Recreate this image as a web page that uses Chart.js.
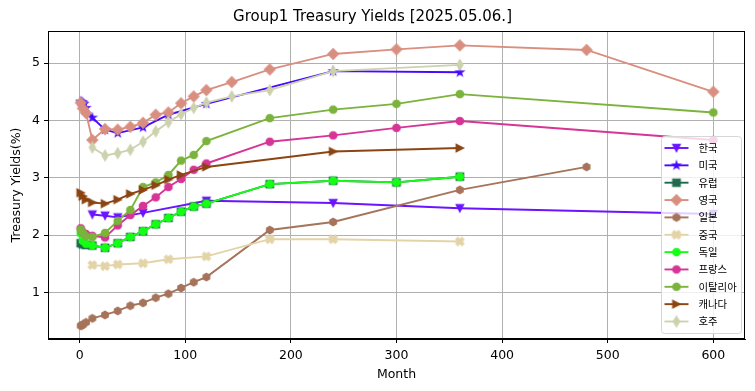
<!DOCTYPE html>
<html>
<head>
<meta charset="utf-8">
<script src="https://cdn.jsdelivr.net/npm/chart.js@4.4.1/dist/chart.umd.min.js"></script>
<style>
  body { margin: 0; background: #fff; }
</style>
</head>
<body>
<canvas id="chart" width="755" height="391"></canvas>
<script>
// maturities in months, yields in %
const koreaMonths = [12, 24, 36, 60, 120, 240, 360, 600];
const koreaYields = [2.36, 2.34, 2.31, 2.39, 2.60, 2.56, 2.47, 2.37];

const usMonths = [1, 2, 3, 4, 6, 12, 24, 36, 60, 84, 120, 240, 360];
const usYields = [4.33, 4.32, 4.31, 4.29, 4.22, 4.05, 3.84, 3.78, 3.88, 4.10, 4.29, 4.86, 4.84];

const europeMonths = [1, 3, 6, 12, 24, 36, 48, 60, 72, 84, 96, 108, 120, 180, 240, 300, 360];
const europeYields = [1.86, 1.84, 1.83, 1.82, 1.78, 1.86, 1.97, 2.07, 2.19, 2.30, 2.41, 2.50, 2.55, 2.89, 2.95, 2.92, 3.02];

const ukMonths = [1, 3, 6, 12, 24, 36, 48, 60, 72, 84, 96, 108, 120, 144, 180, 240, 300, 360, 480, 600];
const ukYields = [4.31, 4.21, 4.13, 3.66, 3.85, 3.84, 3.89, 3.96, 4.10, 4.14, 4.30, 4.42, 4.53, 4.67, 4.89, 5.16, 5.24, 5.31, 5.23, 4.50];

const japanMonths = [1, 2, 3, 6, 12, 24, 36, 48, 60, 72, 84, 96, 108, 120, 180, 240, 360, 480];
const japanYields = [0.42, 0.43, 0.44, 0.48, 0.55, 0.61, 0.68, 0.77, 0.82, 0.91, 0.98, 1.08, 1.18, 1.27, 2.09, 2.23, 2.79, 3.19];

const chinaMonths = [12, 24, 36, 60, 84, 120, 180, 240, 360];
const chinaYields = [1.48, 1.46, 1.49, 1.51, 1.58, 1.63, 1.93, 1.93, 1.89];

const germanyMonths = [1, 3, 6, 12, 24, 36, 48, 60, 72, 84, 96, 108, 120, 180, 240, 300, 360];
const germanyYields = [2.03, 1.90, 1.85, 1.82, 1.78, 1.86, 1.97, 2.07, 2.19, 2.30, 2.41, 2.50, 2.55, 2.89, 2.95, 2.92, 3.02];

const franceMonths = [1, 3, 6, 12, 24, 36, 48, 60, 72, 84, 96, 108, 120, 180, 240, 300, 360, 600];
const franceYields = [2.12, 2.05, 2.02, 1.99, 1.96, 2.17, 2.35, 2.51, 2.66, 2.84, 2.98, 3.14, 3.25, 3.63, 3.74, 3.87, 3.99, 3.66];

const italyMonths = [1, 3, 6, 12, 24, 36, 48, 60, 72, 84, 96, 108, 120, 180, 240, 300, 360, 600];
const italyYields = [2.10, 2.04, 1.98, 1.97, 2.04, 2.25, 2.44, 2.84, 2.92, 3.05, 3.30, 3.40, 3.64, 4.04, 4.19, 4.29, 4.46, 4.14];

const canadaMonths = [1, 3, 6, 12, 24, 36, 48, 60, 72, 84, 96, 120, 240, 360];
const canadaYields = [2.74, 2.68, 2.62, 2.57, 2.55, 2.62, 2.72, 2.79, 2.87, 2.97, 3.05, 3.19, 3.46, 3.52];

const australiaMonths = [12, 24, 36, 48, 60, 72, 84, 96, 108, 120, 144, 180, 240, 360];
const australiaYields = [3.53, 3.39, 3.43, 3.49, 3.63, 3.81, 3.97, 4.11, 4.22, 4.31, 4.42, 4.53, 4.86, 4.97];

const xTicks = [0, 100, 200, 300, 400, 500, 600];
const yTicks = [1, 2, 3, 4, 5];

const series = [
  { label: '한국', months: koreaMonths, yields: koreaYields, color: '#6a14ff', marker: 'v' },
  { label: '미국', months: usMonths, yields: usYields, color: '#4608ff', marker: '*' },
  { label: '유럽', months: europeMonths, yields: europeYields, color: '#1f6a4e', marker: 's' },
  { label: '영국', months: ukMonths, yields: ukYields, color: '#d98f80', marker: 'D' },
  { label: '일본', months: japanMonths, yields: japanYields, color: '#a6735b', marker: 'h' },
  { label: '중국', months: chinaMonths, yields: chinaYields, color: '#e3d4a8', marker: 'X' },
  { label: '독일', months: germanyMonths, yields: germanyYields, color: '#14ff14', marker: 'o' },
  { label: '프랑스', months: franceMonths, yields: franceYields, color: '#d63596', marker: 'o' },
  { label: '이탈리아', months: italyMonths, yields: italyYields, color: '#7bb33c', marker: 'o' },
  { label: '캐나다', months: canadaMonths, yields: canadaYields, color: '#8b4513', marker: '>' },
  { label: '호주', months: australiaMonths, yields: australiaYields, color: '#cdd2ae', marker: 'd' },
];

// matplotlib-like filled markers drawn into small canvases
function markerCanvas(kind, color) {
  const r = 3.75;
  const c = document.createElement('canvas');
  c.width = 16; c.height = 16;
  const g = c.getContext('2d');
  g.translate(8, 8);
  g.fillStyle = color;
  g.strokeStyle = color;
  g.lineWidth = 1.2;
  g.beginPath();
  let pts = [];
  if (kind === 'o') {
    g.arc(0, 0, r, 0, Math.PI * 2);
  } else {
    if (kind === 'v') pts = [[0, r], [-r, -r], [r, -r]];
    if (kind === '>') pts = [[r, 0], [-r, -r], [-r, r]];
    if (kind === 's') pts = [[-r, -r], [r, -r], [r, r], [-r, r]];
    if (kind === 'D') { const d = r * 1.414; pts = [[0, -d], [d, 0], [0, d], [-d, 0]]; }
    if (kind === 'd') { const d = r * 1.414; pts = [[0, -d], [d * 0.6, 0], [0, d], [-d * 0.6, 0]]; }
    if (kind === 'h') {
      for (let k = 0; k < 6; k++) {
        const a = -Math.PI / 2 + k * Math.PI / 3;
        pts.push([r * Math.cos(a), r * Math.sin(a)]);
      }
    }
    if (kind === '*') {
      for (let k = 0; k < 10; k++) {
        const a = -Math.PI / 2 + k * Math.PI / 5;
        const rr = k % 2 ? r * 0.382 : r * 1.05;
        pts.push([rr * Math.cos(a), rr * Math.sin(a)]);
      }
    }
    if (kind === 'X') {
      const s = r * 0.55;
      pts = [[-1, -2], [0, -1], [1, -2], [2, -1], [1, 0], [2, 1], [1, 2], [0, 1], [-1, 2], [-2, 1], [-1, 0], [-2, -1]]
        .map(p => [p[0] * s, p[1] * s]);
    }
    pts.forEach((p, i) => i ? g.lineTo(p[0], p[1]) : g.moveTo(p[0], p[1]));
    g.closePath();
  }
  g.fill();
  g.stroke();
  return c;
}

series.forEach(s => { s.icon = markerCanvas(s.marker, s.color); });

const datasets = series.map((s, i) => ({
  label: s.label,
  data: s.months.map((m, j) => ({ x: m, y: s.yields[j] })),
  borderColor: s.color,
  backgroundColor: s.color,
  borderWidth: 1.9,
  pointStyle: s.icon,
  pointRadius: 4,
  tension: 0,
  order: series.length - i,
}));

// frame + legend inside the plot, like matplotlib
const frameAndLegend = {
  id: 'frameAndLegend',
  afterDraw(chart) {
    const { ctx, chartArea: a } = chart;
    ctx.save();
    ctx.strokeStyle = '#000';
    ctx.lineWidth = 1;
    ctx.strokeRect(Math.round(a.left) + 0.5, Math.round(a.top) + 0.5,
      Math.round(a.right - a.left) - 1, Math.round(a.bottom - a.top) - 1);

    const rowH = 17.35;
    const boxW = 80, boxH = 197;
    const bx = a.right - 3.5 - boxW;
    const by = a.bottom - 5.5 - boxH;
    ctx.beginPath();
    ctx.roundRect(bx, by, boxW, boxH, 3);
    ctx.fillStyle = 'rgba(255,255,255,0.8)';
    ctx.fill();
    ctx.strokeStyle = '#d6d6d6';
    ctx.stroke();

    ctx.font = '10.4px "Noto Sans CJK KR"';
    ctx.textBaseline = 'middle';
    ctx.textAlign = 'left';
    series.forEach((s, i) => {
      const y = by + 11.5 + i * rowH;
      ctx.beginPath();
      ctx.moveTo(bx + 3, y);
      ctx.lineTo(bx + 27, y);
      ctx.strokeStyle = s.color;
      ctx.lineWidth = 1.9;
      ctx.stroke();
      ctx.drawImage(s.icon, bx + 15 - 8, y - 8);
      ctx.fillStyle = '#000';
      ctx.fillText(s.label, bx + 37, y);
    });
    ctx.restore();
  }
};

Chart.defaults.font.family = 'DejaVu Sans';
Chart.defaults.color = '#000';

const tickFont = { family: 'DejaVu Sans', size: 12.5 };

new Chart(document.getElementById('chart'), {
  type: 'line',
  data: { datasets },
  plugins: [frameAndLegend],
  options: {
    responsive: false,
    animation: false,
    layout: { padding: { left: 0, right: 10, top: 0, bottom: 0 } },
    plugins: {
      legend: { display: false },
      tooltip: { enabled: false },
      title: {
        display: true,
        text: 'Group1 Treasury Yields [2025.05.06.]',
        font: { family: 'DejaVu Sans', size: 15, weight: 'normal', lineHeight: 1.2 },
        color: '#000',
        padding: { top: 8.5, bottom: 4.5 },
      },
    },
    scales: {
      x: {
        type: 'linear',
        min: -30,
        max: 630,
        afterBuildTicks: s => { s.ticks = xTicks.map(v => ({ value: v })); },
        afterFit: s => { s.height = 52; },
        ticks: { font: tickFont, color: '#000', padding: 5, maxRotation: 0 },
        grid: { color: '#b0b0b0', lineWidth: 1, tickLength: 4, tickColor: '#000' },
        border: { color: '#000', width: 1 },
        title: { display: true, text: 'Month', font: tickFont, color: '#000', padding: { top: 0, bottom: 8.5 } },
      },
      y: {
        min: 0.19,
        max: 5.56,
        afterBuildTicks: s => { s.ticks = yTicks.map(v => ({ value: v })); },
        afterFit: s => { s.width = 48; },
        ticks: { font: tickFont, color: '#000', padding: 4 },
        grid: { color: '#b0b0b0', lineWidth: 1, tickLength: 4, tickColor: '#000' },
        border: { color: '#000', width: 1 },
        title: { display: true, text: 'Treasury Yields(%)', font: tickFont, color: '#000', padding: { top: 9, bottom: 0 } },
      },
    },
  },
});
</script>
</body>
</html>
